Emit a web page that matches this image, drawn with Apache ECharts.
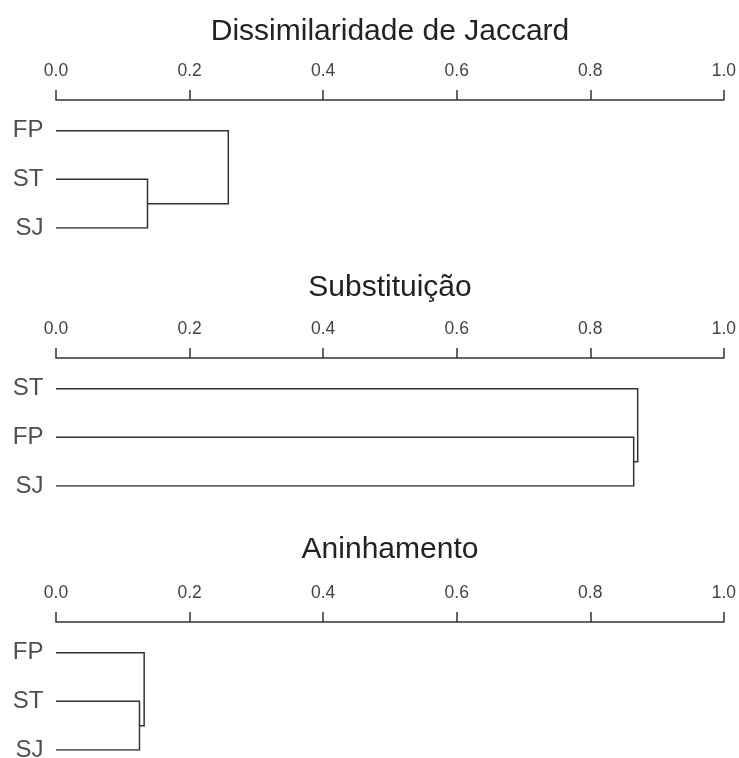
<!DOCTYPE html>
<html>
<head>
<meta charset="utf-8">
<script src="https://cdn.jsdelivr.net/npm/echarts@6/dist/echarts.min.js"></script>
<style>html,body{margin:0;padding:0;background:#fff}#c{width:739px;height:758px}</style>
</head>
<body>
<div id="c"></div>
<script>
// Panel titles
const titles = ['Dissimilaridade de Jaccard', 'Substituição', 'Aninhamento'];
// Leaf order (top to bottom) for each dendrogram
const leavesJaccard = ['FP', 'ST', 'SJ'];
const leavesSubst = ['ST', 'FP', 'SJ'];
const leavesAninh = ['FP', 'ST', 'SJ'];
// Merge heights: [first merge (leaf 2 & 3), second merge (leaf 1 with cluster)]
const heightsJaccard = [0.137, 0.258];
const heightsSubst = [0.865, 0.871];
const heightsAninh = [0.125, 0.132];
// x-axis ticks
const tickMin = 0, tickMax = 1, tickStep = 0.2;

const panels = [
  {title: titles[0], leaves: leavesJaccard, h: heightsJaccard},
  {title: titles[1], leaves: leavesSubst, h: heightsSubst},
  {title: titles[2], leaves: leavesAninh, h: heightsAninh}
];

const gridTops = [100, 358, 622];
const titleTops = [17, 273, 535];
const gridH = 128;
const left = 56, right = 15;
const lineColor = '#333';
const font = '"Liberation Sans", Arial, Helvetica, sans-serif';

const option = {
  animation: false,
  backgroundColor: '#fff',
  title: [], grid: [], xAxis: [], yAxis: [], series: []
};

panels.forEach((p, i) => {
  option.title.push({
    text: p.title,
    left: left + (739 - left - right) / 2,
    textAlign: 'center',
    top: titleTops[i],
    padding: 0,
    textStyle: {fontFamily: font, fontSize: 30, fontWeight: 'normal', color: '#222'}
  });
  option.grid.push({left: left, right: right, top: gridTops[i], height: gridH, containLabel: false});
  option.xAxis.push({
    type: 'value', gridIndex: i, position: 'top',
    min: tickMin, max: tickMax, interval: tickStep,
    axisLine: {show: true, onZero: false, lineStyle: {color: lineColor, width: 1.5}},
    axisTick: {show: true, length: 10, inside: false, lineStyle: {color: lineColor, width: 1.5}},
    axisLabel: {show: true, margin: 20, fontFamily: font, fontSize: 17.5, color: '#444',
      formatter: v => v.toFixed(1)},
    splitLine: {show: false}
  });
  option.yAxis.push({
    type: 'value', gridIndex: i, inverse: true, min: -0.63, max: 2, show: false
  });
  const h1 = p.h[0], h2 = p.h[1];
  option.series.push({
    type: 'lines', coordinateSystem: 'cartesian2d', xAxisIndex: i, yAxisIndex: i,
    polyline: true, silent: true,
    lineStyle: {color: lineColor, width: 1.5, opacity: 1},
    data: [
      {coords: [[0, 0], [h2, 0], [h2, 1.5], [h1, 1.5]]},
      {coords: [[0, 1], [h1, 1], [h1, 2], [0, 2]]}
    ]
  });
  option.series.push({
    type: 'scatter', xAxisIndex: i, yAxisIndex: i, symbolSize: 1, silent: true,
    itemStyle: {color: 'rgba(0,0,0,0)'},
    label: {show: true, position: 'left', distance: 12, fontFamily: font, fontSize: 24, color: '#222',
      formatter: d => d.name},
    data: p.leaves.map((n, k) => ({name: n, value: [0, k]}))
  });
});

const chart = echarts.init(document.getElementById('c'), null, {renderer: 'canvas'});
chart.setOption(option);
</script>
</body>
</html>
